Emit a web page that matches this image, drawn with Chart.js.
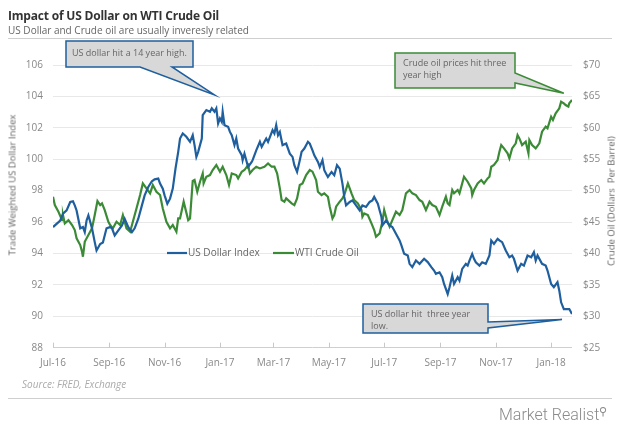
<!DOCTYPE html>
<html>
<head>
<meta charset="utf-8">
<script src="https://cdn.jsdelivr.net/npm/chart.js@4.4.1/dist/chart.umd.min.js"></script>
<style>
body{margin:0;background:#fff}
#wrap{position:relative;width:620px;height:426px;font-family:'Open Sans',sans-serif;overflow:hidden}
#wrap div{position:absolute;white-space:nowrap}
#title{left:8px;top:7px;font-size:12px;font-weight:700;color:#333;letter-spacing:-0.2px}
#sub{left:8px;top:23px;font-size:10px;color:#666}
.rule{height:1px;background:#cfcfcf}
#ytitle{left:12px;top:185px;font-size:9.5px;color:#666;transform:translate(-50%,-50%) rotate(-90deg)}
#y1title{left:611px;top:201px;font-size:9.5px;color:#666;transform:translate(-50%,-50%) rotate(-90deg)}
#source{left:22px;top:377px;font-size:10px;font-style:italic;color:#aaa}
#logo{left:499px;top:405px;font-size:16px;font-weight:300;color:#8a8a8a;font-family:Roboto,sans-serif}
canvas{position:absolute;left:0;top:0}
</style>
</head>
<body>
<div id="wrap">
<canvas id="chart" width="620" height="426"></canvas>
<div id="title">Impact of US Dollar on WTI Crude Oil</div>
<div id="sub">US Dollar and Crude oil are usually inveresly related</div>
<div class="rule" style="left:8px;top:38px;width:604px"></div>
<div id="ytitle">Trade Weighted US Dollar Index</div>
<div id="y1title">Crude Oil (Dollars&nbsp; Per Barrel)</div>
<div id="source">Source: FRED, Exchange</div>
<div class="rule" style="left:8px;top:398px;width:604px"></div>
<div id="logo">Market Realist<span style="font-size:11px;vertical-align:top">&#9906;</span></div>
</div>
<script>
// days counted from 1 Jul 2016
const monthDays = [0,62,123,184,243,304,365,427,488,549]
const monthLabels = ["Jul-16","Sep-16","Nov-16","Jan-17","Mar-17","May-17","Jul-17","Sep-17","Nov-17","Jan-18"]

const usdDays = [0,8,11,15,19,22,24,26,30,33,35,37,39,43,46,48,52,55,59,63,65,68,72,76,79,83,87,90,94,98,101,105,109,112,116,118,121,123,126,129,132,135,138,
140,143,147,151,154,156,158,160,164,165,169,173,175,178,180,182,184,186,187,189,193,195,197,200,202,204,208,209,211,213,215,219,220,224,228,230,235,237,242,244,246,248,250,253,257,261,264,266,269,272,274,277,281,
283,286,288,292,294,297,299,301,303,307,310,313,316,319,321,323,327,330,334,338,341,345,349,352,354,358,360,362,363,367,371,374,378,382,384,387,391,393,396,400,404,409,413,417,420,422,
426,429,431,435,437,440,442,446,448,451,455,457,459,462,464,466,470,473,477,481,483,486,490,492,495,499,503,506,508,512,516,519,523,527,530,532,534,539,543,545,549,552,556,558,560,563,569,572]
const usdIndex = [95.68,96.1,96.53,96.74,97.28,97.32,97.06,96.74,95.6,95.68,95.36,96.1,96.43,95.6,94.72,94.19,94.6,94.7,95.6,95.68,95.6,95.15,95.47,95.79,96.21,95.68,95.36,95.6,96.21,97.06,97.7,98.23,98.6,98.72,98.77,98.45,98.13,97.7,97.17,97.49,98.13,99.4,100.47,
101.32,101.64,101.43,101.11,101.53,100.9,100.15,100.47,101.32,102.81,103.13,103.02,103.24,103.02,103.24,102.28,102.6,102.38,103.02,102.17,102.06,101.74,101.53,100.9,101.32,100.68,100.26,99.94,100.36,99.94,99.51,99.83,99.94,100.57,101.11,100.79,101.32,101.11,101.85,101.64,102.17,101.53,101.74,100.9,101.0,100.36,100.15,99.62,99.19,99.94,100.47,100.68,101.11,
101.0,100.57,100.25,99.83,99.51,99.94,99.3,99.08,98.87,99.19,98.98,99.62,99.4,98.45,97.6,97.06,97.28,97.38,97.06,96.74,97.06,96.96,97.28,97.38,97.6,97.17,96.74,96.32,95.79,96.1,95.79,95.68,95.25,94.83,94.51,93.98,93.87,93.34,93.13,93.55,93.34,93.66,93.45,93.13,92.91,92.7,
92.8,92.49,92.06,91.42,91.85,92.59,92.06,92.49,92.27,93.02,93.34,93.23,93.55,93.97,93.66,93.44,93.23,93.44,93.34,93.87,94.83,94.61,94.93,94.83,94.72,94.19,93.76,93.87,93.66,92.91,93.34,93.23,93.87,93.76,94.08,93.55,93.87,93.34,93.23,92.91,92.06,91.85,92.17,91.63,90.89,90.46,90.46,90.14]

const oilDays = [0,2,6,10,11,13,17,21,24,26,30,32,33,35,39,43,46,49,52,54,57,61,63,66,70,74,77,81,85,88,92,96,99,103,107,110,114,118,121,125,129,132,136,138,
140,144,149,151,154,156,159,162,165,166,169,173,176,180,184,187,191,194,197,202,204,208,211,215,217,220,224,228,233,237,241,244,247,250,252,255,257,263,266,269,272,275,279,
283,286,290,292,296,299,303,305,308,310,312,316,319,321,325,327,329,332,336,340,341,343,347,351,354,356,360,363,365,368,371,374,378,382,385,389,393,396,400,404,407,411,415,418,422,
426,429,433,435,437,440,442,446,448,451,453,457,461,462,464,468,472,475,479,481,483,486,490,492,494,497,501,503,506,510,512,514,517,521,524,525,528,532,536,539,543,545,549,551,554,558,560,563,565,568,569,572]
const oilPrice = [49.03,47.7,46.64,45.31,46.11,44.78,45.31,44.52,43.72,42.4,41.34,40.27,39.48,41.86,42.93,43.99,46.11,48.34,47.7,47.97,46.91,45.05,44.52,43.99,45.05,44.52,46.11,43.99,43.46,45.05,47.17,49.3,51.15,50.36,49.56,50.89,49.83,49.3,47.17,45.05,43.99,44.52,43.46,45.58,
45.58,48.24,45.31,45.58,51.53,51.69,49.83,51.42,52.75,51.15,52.22,52.48,53.28,54.07,53.01,53.81,52.48,50.89,52.75,52.48,51.95,53.01,53.28,54.07,52.75,53.28,53.81,53.54,53.81,54.34,53.81,53.81,52.75,50.36,48.5,48.24,48.77,47.97,47.7,48.77,50.89,51.15,52.48,
53.28,53.02,51.69,49.83,49.3,49.57,49.03,47.44,45.58,46.12,47.44,48.24,48.77,49.3,51.16,50.36,49.57,48.5,47.97,46.91,45.85,46.38,46.12,44.79,43.73,42.67,43.2,45.05,46.91,45.32,44.26,45.32,46.65,46.12,46.91,49.57,50.1,49.57,49.3,48.5,48.24,46.91,48.24,47.71,47.44,
46.12,47.44,49.03,47.97,47.71,50.1,49.57,50.1,49.57,51.16,52.22,51.42,50.36,49.3,50.1,51.16,51.69,51.16,51.95,52.22,53.81,54.08,54.87,56.2,57.26,56.73,55.94,55.14,56.73,57.53,58.85,58.32,57.26,57.79,55.94,58.06,57.26,56.73,57.53,59.39,60.18,59.92,61.77,61.24,62.3,63.1,64.16,63.9,63.63,63.37,63.9,64.43]

const blue = "#1f5f9e"
const green = "#3b8b36"

const overlay = {
id:"overlay",
afterDraw(chart){
const ctx = chart.ctx
const x = chart.scales.x
const y = chart.scales.y
const y1 = chart.scales.y1
const area = chart.chartArea

ctx.save()
ctx.strokeStyle = "#c8c8c8"
ctx.lineWidth = 1
monthDays.forEach(d=>{
const px = Math.round(x.getPixelForValue(d))+0.5
ctx.beginPath()
ctx.moveTo(px,area.bottom)
ctx.lineTo(px,area.bottom-5)
ctx.stroke()
})

// legend
ctx.font = "10px 'Open Sans'"
ctx.textBaseline = "middle"
ctx.fillStyle = "#666"
ctx.lineWidth = 2.2
ctx.strokeStyle = blue
ctx.beginPath(); ctx.moveTo(167,253); ctx.lineTo(187,253); ctx.stroke()
ctx.fillText("US Dollar Index",188,253)
ctx.strokeStyle = green
ctx.beginPath(); ctx.moveTo(273,253); ctx.lineTo(294,253); ctx.stroke()
ctx.fillText("WTI Crude Oil",295,253)

// callouts
function callout(pts,color,lines,tx,ty){
ctx.beginPath()
ctx.moveTo(pts[0][0],pts[0][1])
pts.slice(1).forEach(p=>ctx.lineTo(p[0],p[1]))
ctx.closePath()
ctx.fillStyle = "#d8d8d8"
ctx.fill()
ctx.strokeStyle = color
ctx.lineWidth = 1.5
ctx.stroke()
ctx.fillStyle = "#666"
ctx.font = "9px 'Open Sans'"
ctx.textBaseline = "middle"
lines.forEach((t,i)=>ctx.fillText(t,tx,ty+i*12))
}

const t1 = [x.getPixelForValue(178),y.getPixelForValue(104.1)]
callout([[66,41],[193,41],[193,67],[172,67],t1,[140,67],[66,67]],blue,["US dollar hit a 14 year high."],72,53)

const t2 = [x.getPixelForValue(563),y1.getPixelForValue(65.5)]
callout([[395,53],[515,53],[515,73],t2,[515,83],[515,88],[395,88]],green,["Crude oil prices hit three","year high"],403,63)

const t3 = [x.getPixelForValue(561),y.getPixelForValue(89.8)]
callout([[363,304],[488,304],[488,322],t3,[488,328],[488,333],[363,333]],blue,["US dollar hit  three year","low."],371,314)
ctx.restore()
}
}

Chart.defaults.font.family = "'Open Sans'"
Chart.defaults.font.size = 10
Chart.defaults.color = "#888"

new Chart(document.getElementById("chart"),{
type:"line",
data:{
datasets:[{
label:"US Dollar Index",
data:usdDays.map((d,i)=>({x:d,y:usdIndex[i]})),
borderColor:blue,
borderWidth:2.2,
pointRadius:0,
tension:0,
yAxisID:"y"
},{
label:"WTI Crude Oil",
data:oilDays.map((d,i)=>({x:d,y:oilPrice[i]})),
borderColor:green,
borderWidth:2.2,
pointRadius:0,
tension:0,
yAxisID:"y1"
}]
},
options:{
responsive:false,
animation:false,
devicePixelRatio:1,
layout:{padding:{top:65,left:0,right:0,bottom:0}},
plugins:{legend:{display:false},tooltip:{enabled:false}},
scales:{
x:{
type:"linear",
min:0,
max:572,
afterBuildTicks:s=>{s.ticks = monthDays.map(v=>({value:v}))},
ticks:{callback:(v,i)=>monthLabels[i],padding:9,maxRotation:0,autoSkip:false},
grid:{display:false,drawTicks:false},
border:{display:false},
afterFit:s=>{s.height=78.3}
},
y:{
position:"left",
min:88,
max:106,
ticks:{stepSize:2,padding:10},
grid:{color:c=>c.tick.value===88?"#cfcfcf":"#e8e8e8",drawTicks:false},
border:{display:false},
afterFit:s=>{s.width=53}
},
y1:{
position:"right",
min:25,
max:70,
ticks:{stepSize:5,padding:11,callback:v=>"$"+v},
grid:{display:false,drawTicks:false},
border:{display:false},
afterFit:s=>{s.width=48}
}
}
},
plugins:[overlay]
})
</script>
</body>
</html>
